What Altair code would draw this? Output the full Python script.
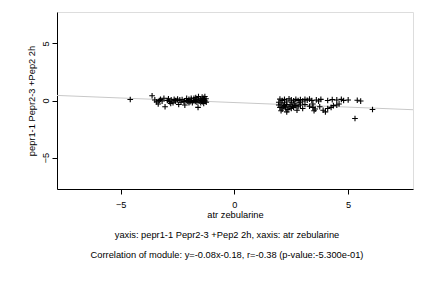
import altair as alt
import pandas as pd

# Cluster near atr zebularine < 0
x1 = [-4.58, -3.62, -3.5, -3.42, -3.35, -3.25, -3.18, -3.1, -3.05, -2.95, -2.9, -2.85,
      -2.78, -2.7, -2.65, -2.6, -2.52, -2.45, -2.4, -2.35, -2.3, -2.22, -2.18, -2.12,
      -2.05, -2.0, -1.95, -1.9, -1.85, -1.8, -1.78, -1.72, -1.68, -1.65, -1.6, -1.58,
      -1.55, -1.5, -1.48, -1.45, -1.42, -1.4, -1.38, -1.35, -1.32, -1.3, -1.28, -1.25,
      -1.24, -1.6, -2.6, -2.0, -1.9, -2.8, -3.3, -1.7, -2.1, -2.5, -1.35]
y1 = [0.09, 0.42, 0.05, -0.12, -0.3, 0.1, -0.05, 0.2, -0.55, 0.0, 0.15, -0.1,
      0.05, -0.2, 0.1, -0.05, 0.0, -0.35, 0.05, -0.15, 0.08, -0.1, -0.4, 0.0,
      -0.05, 0.1, -0.1, 0.05, -0.2, 0.0, 0.2, -0.08, 0.1, -0.15, 0.05, 0.35,
      -0.05, 0.15, -0.2, 0.0, 0.3, -0.1, 0.1, -0.25, 0.05, 0.35, -0.05, 0.15,
      -0.15, -0.6, 0.0, -0.2, 0.2, -0.25, 0.0, 0.25, 0.18, 0.12, 0.2]

# Cluster near atr zebularine > 0
x2 = [2.0, 2.1, 2.2, 2.3, 2.4, 2.5, 2.6, 2.7, 2.8, 2.9, 3.0, 3.1, 3.2, 3.3, 3.4,
      3.6, 3.7, 3.8, 4.1, 4.3, 4.5, 4.7, 4.8, 5.0, 5.4, 5.55,
      1.95, 2.0, 2.05, 2.1, 2.15, 2.2, 2.25, 2.3, 2.35, 2.4, 2.45, 2.5, 2.55, 2.6,
      2.7, 2.75, 2.8, 2.9, 3.0, 3.1, 3.3, 3.45, 3.5, 3.55, 3.75, 3.9, 4.0, 4.1,
      4.25, 4.35, 4.5, 4.6, 2.05, 2.3, 2.65, 3.45, 5.3, 6.07, 1.95, 2.2, 2.5, 2.85]
y2 = [0.12, 0.0, 0.1, -0.05, 0.15, 0.05, -0.02, 0.1, 0.0, 0.08, -0.05, 0.1, 0.02, 0.12, 0.0,
      0.05, -0.05, 0.1, 0.0, 0.08, 0.05, 0.1, 0.0, 0.05, 0.02, -0.05,
      -0.4, -0.6, -0.3, -0.75, -0.5, -0.45, -0.65, -0.35, -0.8, -0.55, -0.4, -0.7, -0.5, -0.6,
      -0.45, -0.85, -0.55, -0.4, -0.7, -0.35, -0.5, -0.6, -0.9, -0.75, -0.55, -0.85, -1.0, -0.7,
      -0.6, -0.45, -0.4, -0.3, -0.9, -1.0, -0.3, -0.3, -1.58, -0.79, -0.15, -0.2, -0.15, -0.2]

slope = -0.08
intercept = -0.18
x_domain = [-7.8, 7.85]
y_domain = [-7.75, 7.75]
x_ticks = [-5, 0, 5]
y_ticks = [-5, 0, 5]

caption = [
    "yaxis: pepr1-1 Pepr2-3 +Pep2 2h, xaxis: atr zebularine",
    "Correlation of module: y=-0.08x-0.18, r=-0.38 (p-value:-5.300e-01)",
]

pts = pd.DataFrame({"x": x1 + x2, "y": y1 + y2})
fit = pd.DataFrame({"x": x_domain})

FONT = "Liberation Sans"

xs = alt.Scale(domain=x_domain, nice=False, zero=False)
ys = alt.Scale(domain=y_domain, nice=False, zero=False)

xaxis = alt.Axis(values=x_ticks, grid=False, title="atr zebularine", domainColor="black",
                 tickColor="black", tickSize=5, labelPadding=6, titlePadding=1,
                 labelFont=FONT, titleFont=FONT, labelFontSize=9.2, titleFontSize=9.3,
                 titleFontWeight="normal", labelColor="black", titleColor="black")
yaxis = alt.Axis(values=y_ticks, grid=False, title="pepr1-1 Pepr2-3 +Pep2 2h",
                 domainColor="black", tickColor="black", tickSize=5, labelAngle=-90,
                 labelAlign="center", labelBaseline="bottom", labelPadding=2,
                 titlePadding=5, labelFont=FONT, titleFont=FONT, labelFontSize=9.2,
                 titleFontSize=9.3, titleFontWeight="normal", labelColor="black",
                 titleColor="black")

line = alt.Chart(fit).transform_calculate(
    yy=f"{slope} * datum.x + {intercept}"
).mark_line(color="#c8c8c8", strokeWidth=1, clip=True).encode(
    x=alt.X("x:Q", scale=xs, axis=xaxis),
    y=alt.Y("yy:Q", scale=ys, axis=yaxis),
)

points = alt.Chart(pts).mark_point(
    shape="M-1,0H1M0,-1V1", filled=False, color="black", strokeWidth=1.1, size=32, opacity=1
).encode(
    x=alt.X("x:Q", scale=xs),
    y=alt.Y("y:Q", scale=ys),
)

chart = alt.layer(line, points).properties(
    width=356,
    height=177,
    autosize=alt.AutoSizeParams(type="none"),
    padding={"left": 57, "top": 12, "right": 19, "bottom": 99},
    title=alt.TitleParams(text=caption, orient="bottom", font=FONT, fontSize=9.3,
                          fontWeight="normal", color="black", lineHeight=20, offset=11,
                          anchor="middle", dx=-8),
).configure_view(stroke="#777777", strokeWidth=1).configure(background="white")

chart.save("out.html", embed_options={"renderer": "svg", "actions": False})
